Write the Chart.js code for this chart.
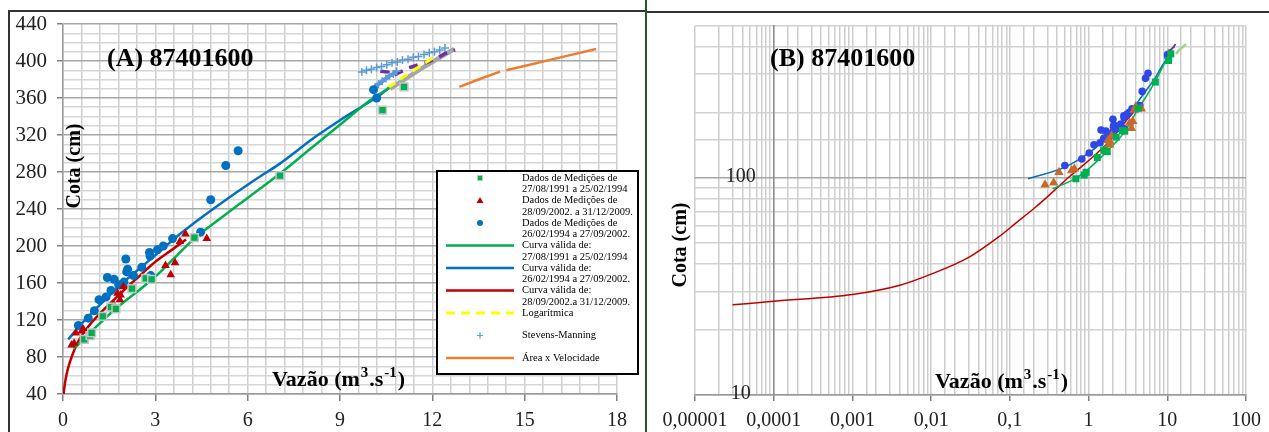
<!DOCTYPE html>
<html>
<head>
<meta charset="utf-8">
<script src="https://cdn.jsdelivr.net/npm/chart.js@4.4.0/dist/chart.umd.min.js"></script>
<style>
  html, body { margin: 0; padding: 0; background: #fff; }
  body { width: 1269px; height: 432px; position: relative; overflow: hidden; }
  canvas { position: absolute; top: 0; }
  #graficoA { left: 0; }
  #graficoB { left: 650px; }
  .linha { position: absolute; }
</style>
</head>
<body>
<div class="linha" style="left:8px; top:10px; width:2px; height:422px; background:#333;"></div>
<div class="linha" style="left:8px; top:10px; width:638px; height:2px; background:#333;"></div>
<div class="linha" style="left:645px; top:0; width:2px; height:432px; background:#1f5a2a;"></div>
<div class="linha" style="left:647px; top:11px; width:622px; height:2px; background:#333;"></div>
<canvas id="graficoA" width="645" height="432"></canvas>
<canvas id="graficoB" width="619" height="432"></canvas>
<script>
var SERIF = "'Liberation Serif', 'Times New Roman', serif";

// medições (vazão m3/s, cota cm)
var medQ9194 = [0.69, 0.88, 0.93, 1.29, 1.56, 1.72, 2.24, 2.69, 2.88, 4.27, 7.05, 10.38, 11.08];
var medH9194 = [99, 103, 106, 124, 134, 132, 154, 165, 164, 209, 276, 347, 372];
var medQ0209 = [0.28, 0.36, 0.42, 0.61, 0.66, 1.66, 1.69, 1.77, 1.85, 1.87, 1.96, 3.33, 3.50, 3.64, 3.80, 3.98, 4.67];
var medH0209 = [93, 95, 106, 108, 110, 136, 132, 149, 142, 147, 156, 179, 169, 182, 205, 213, 208];
var medQ9402 = [0.50, 0.82, 1.02, 1.17, 1.40, 1.44, 1.56, 1.66, 1.81, 1.98, 2.04, 2.07, 2.10, 2.29, 2.56, 2.81, 2.83, 2.85, 3.07, 3.26, 3.56, 4.47, 4.80, 5.29, 5.69, 10.09, 10.19];
var medH9402 = [114, 122, 130, 142, 145, 166, 152, 164, 158, 161, 186, 172, 175, 168, 177, 193, 189, 168, 196, 200, 208, 215, 250, 287, 303, 369, 360];

// curvas-chave
var curvaQ9194 = [0.35, 0.7, 1.0, 1.5, 2.0, 2.5, 3.0, 3.5, 4.3, 5.0, 6.0, 7.0, 8.0, 9.0, 10.0, 10.6];
var curvaH9194 = [89, 100, 110, 126, 140, 153, 167, 183, 209, 227, 252, 277, 304, 331, 358, 371];
var curvaQ9402 = [0.17, 0.5, 1.0, 1.5, 2.0, 2.5, 3.0, 3.8, 5.0, 6.3, 7.0, 8.2, 9.0, 10.2, 10.6];
var curvaH9402 = [99, 112, 130, 146, 162, 176, 190, 213, 243, 273, 288, 318, 336, 361, 371];
var curvaQ0209 = [0.00003, 0.0001, 0.001, 0.004, 0.01, 0.03, 0.07, 0.12, 0.2, 0.28, 0.4, 0.55, 0.8, 1.2, 1.6, 2.0, 2.5, 3.0, 3.5, 4.0];
var curvaH0209 = [26, 27, 29, 32, 36, 43, 53, 62, 72, 80, 90, 100, 112, 127, 140, 153, 168, 183, 195, 207];

// extrapolações
var logQ = [10.55, 11.2, 12.15];
var logH = [371, 386, 406];
var stevensQ = [9.71, 9.86, 10.02, 10.19, 10.35, 10.52, 10.69, 10.86, 11.03, 11.21, 11.38, 11.55, 11.73, 11.90, 12.07, 12.24, 12.41];
var stevensH = [388, 390, 391, 393, 394, 396, 398, 399, 401, 402, 404, 405, 407, 409, 410, 412, 414];
var stevensQ2 = [10.14, 10.25, 10.37, 10.49, 10.61, 10.73, 10.84];
var stevensH2 = [372, 375, 378, 381, 384, 386, 389];
var areaVelQ = [12.88, 13.5, 14.2, null, 14.4, 15.3, 16.3, 17.32];
var areaVelH = [372, 380, 388.5, null, 390, 397, 405, 413];
var roxoQ = [10.31, 10.57, 10.74, 10.95, 11.28, 11.55, 11.87, 12.14, 12.47, 12.74];
var roxoH = [389, 388, 384, 388, 393, 396, 399, 403, 409, 412];
var cinzaQ = [10.63, 11.6, 12.71];
var cinzaH = [370, 391, 413];

// eixos
var xTicksA = [0, 3, 6, 9, 12, 15, 18];
var yTicksA = [40, 80, 120, 160, 200, 240, 280, 320, 360, 400, 440];
var xTicksB = [0.00001, 0.0001, 0.001, 0.01, 0.1, 1, 10, 100];
var xTextosB = ['0,00001', '0,0001', '0,001', '0,01', '0,1', '1', '10', '100'];
var yTicksB = [10, 100];

var legendaTextos = [
    ['Dados de Medições de', '27/08/1991 a 25/02/1994'],
    ['Dados de Medições de', '28/09/2002. a 31/12/2009.'],
    ['Dados de Medições de', '26/02/1994 a 27/09/2002.'],
    ['Curva válida de:', '27/08/1991 a 25/02/1994'],
    ['Curva válida de:', '26/02/1994 a 27/09/2002.'],
    ['Curva válida de:', '28/09/2002.a 31/12/2009.'],
    ['Logarítmica'],
    ['Stevens-Manning'],
    ['Área x Velocidade']
];

function pts(qs, hs) {
    return qs.map(function(q, i) {
        return { x: q, y: hs[i] };
    });
}

function naLista(lista, v) {
    return lista.some(function(t) { return Math.abs(t - v) < 1e-9 * Math.max(1, Math.abs(t)); });
}

function drawVazao(ctx, x, y) {
    var partes = [['Vazão (m', false], ['3', true], ['.s', false], ['-1', true], [')', false]];
    partes.forEach(function(p) {
        ctx.font = p[1] ? 'bold 15px ' + SERIF : 'bold 22px ' + SERIF;
        ctx.fillText(p[0], x, p[1] ? y - 9 : y);
        x += ctx.measureText(p[0]).width + 1;
    });
}

var textosPlugin = {
    id: 'textos',
    afterDraw: function(chart, args, o) {
        var ctx = chart.ctx;
        ctx.save();
        ctx.fillStyle = '#000';
        ctx.textAlign = 'left';
        ctx.textBaseline = 'alphabetic';
        ctx.font = 'bold 26px ' + SERIF;
        ctx.fillText(o.titulo, o.tx, o.ty);
        drawVazao(ctx, o.vx, o.vy);
        ctx.translate(o.cx, o.cy);
        ctx.rotate(-Math.PI / 2);
        ctx.textAlign = 'center';
        ctx.textBaseline = 'middle';
        ctx.font = 'bold 20px ' + SERIF;
        ctx.fillText('Cota (cm)', 0, 0);
        ctx.restore();
    }
};

// rótulos do eixo y do gráfico B, junto ao eixo que cruza em 0,0001
var rotulosYB = {
    id: 'rotulosYB',
    afterDraw: function(chart) {
        var ctx = chart.ctx;
        var xEixo = chart.scales.x.getPixelForValue(0.0001);
        ctx.save();
        ctx.fillStyle = '#222';
        ctx.font = '20px ' + SERIF;
        ctx.textAlign = 'center';
        ctx.textBaseline = 'middle';
        yTicksB.forEach(function(v) {
            ctx.fillText(String(v), xEixo - 33, chart.scales.y.getPixelForValue(v) - 1);
        });
        ctx.restore();
    }
};

// legenda desenhada dentro do gráfico A
var legendaPlugin = {
    id: 'legendaA',
    afterDraw: function(chart) {
        var ctx = chart.ctx;
        var x0 = 437, y0 = 171, w = 201, h = 203;
        ctx.save();
        ctx.fillStyle = '#fff';
        ctx.fillRect(x0, y0, w, h);
        ctx.strokeStyle = '#000';
        ctx.lineWidth = 2;
        ctx.strokeRect(x0, y0, w, h);
        ctx.font = '10.5px ' + SERIF;
        ctx.textBaseline = 'middle';
        legendaTextos.forEach(function(linhas, i) {
            var ds = chart.data.datasets[i];
            var yc = 178 + 22.5 * i;
            var cx = 480;
            ctx.fillStyle = ds.backgroundColor;
            ctx.strokeStyle = ds.borderColor;
            ctx.setLineDash([]);
            if (ds.showLine) {
                ctx.lineWidth = ds.borderWidth;
                ctx.setLineDash(ds.borderDash || []);
                ctx.beginPath();
                ctx.moveTo(446, yc);
                ctx.lineTo(514, yc);
                ctx.stroke();
                ctx.setLineDash([]);
            } else if (ds.pointStyle === 'rect') {
                ctx.fillStyle = ds.pointBorderColor;
                ctx.fillRect(cx - 3, yc - 3, 6, 6);
                ctx.fillStyle = ds.backgroundColor;
                ctx.fillRect(cx - 2, yc - 2, 4, 4);
            } else if (ds.pointStyle === 'triangle') {
                ctx.beginPath();
                ctx.moveTo(cx, yc - 3.5);
                ctx.lineTo(cx + 3.5, yc + 2.5);
                ctx.lineTo(cx - 3.5, yc + 2.5);
                ctx.closePath();
                ctx.fill();
            } else if (ds.pointStyle === 'circle') {
                ctx.beginPath();
                ctx.arc(cx, yc, 3, 0, Math.PI * 2);
                ctx.fill();
            } else if (ds.pointStyle === 'cross') {
                ctx.lineWidth = 1.2;
                ctx.beginPath();
                ctx.moveTo(cx - 3, yc); ctx.lineTo(cx + 3, yc);
                ctx.moveTo(cx, yc - 3); ctx.lineTo(cx, yc + 3);
                ctx.stroke();
            } else {
                ctx.lineWidth = 2;
                ctx.beginPath();
                ctx.moveTo(cx - 2.5, yc); ctx.lineTo(cx + 2.5, yc);
                ctx.stroke();
            }
            ctx.fillStyle = '#000';
            linhas.forEach(function(t, k) {
                ctx.fillText(t, 522, yc + k * 11.5);
            });
        });
        ctx.restore();
    }
};

Chart.defaults.font.family = SERIF;
Chart.defaults.color = '#222';

var corMarcaA = function(lista) {
    return function(c) { return naLista(lista, c.tick.value) ? '#7f7f7f' : 'rgba(0,0,0,0)'; };
};

var graficoA = new Chart(document.getElementById('graficoA'), {
    type: 'scatter',
    data: {
        datasets: [
            { data: pts(medQ9194, medH9194), pointStyle: 'rect', pointRadius: 5.5, backgroundColor: '#00B050', pointBorderColor: '#c4c4c4', borderColor: '#c4c4c4', pointBorderWidth: 1.5 },
            { data: pts(medQ0209, medH0209), pointStyle: 'triangle', pointRadius: 5, backgroundColor: '#C00000', borderColor: '#C00000', pointBorderWidth: 0 },
            { data: pts(medQ9402, medH9402), pointStyle: 'circle', pointRadius: 4.5, backgroundColor: '#0070C0', borderColor: '#0070C0', pointBorderWidth: 0 },
            { data: pts(curvaQ9194, curvaH9194), showLine: true, cubicInterpolationMode: 'monotone', borderColor: '#00B050', backgroundColor: '#00B050', borderWidth: 2.5, pointRadius: 0 },
            { data: pts(curvaQ9402, curvaH9402), showLine: true, cubicInterpolationMode: 'monotone', borderColor: '#0070C0', backgroundColor: '#0070C0', borderWidth: 2.5, pointRadius: 0 },
            { data: pts(curvaQ0209, curvaH0209), showLine: true, cubicInterpolationMode: 'monotone', borderColor: '#C00000', backgroundColor: '#C00000', borderWidth: 2.5, pointRadius: 0 },
            { data: pts(logQ, logH), showLine: true, borderColor: '#FFFF00', backgroundColor: '#FFFF00', borderWidth: 3, borderDash: [9, 6], pointRadius: 0 },
            { data: pts(stevensQ, stevensH), pointStyle: 'cross', pointRadius: 4, borderColor: '#5B9BD5', backgroundColor: '#5B9BD5', pointBorderWidth: 1.5 },
            { data: pts(areaVelQ, areaVelH), showLine: true, spanGaps: false, borderColor: '#ED7D31', backgroundColor: '#ED7D31', borderWidth: 2.5, pointRadius: 0 },
            { data: pts(stevensQ2, stevensH2), showLine: true, borderColor: '#5B9BD5', backgroundColor: '#5B9BD5', borderWidth: 4, pointStyle: 'cross', pointRadius: 4, pointBorderWidth: 1.5 },
            { data: pts(roxoQ, roxoH), showLine: true, borderColor: '#7030A0', backgroundColor: '#7030A0', borderWidth: 3.5, borderDash: [9, 7], pointRadius: 0 },
            { data: pts(cinzaQ, cinzaH), showLine: true, borderColor: '#A6A6A6', backgroundColor: '#A6A6A6', borderWidth: 4.5, pointRadius: 0 }
        ]
    },
    options: {
        responsive: false,
        animation: false,
        clip: 0,
        layout: { padding: { left: 0, top: 24, right: 28, bottom: 0 } },
        plugins: {
            legend: { display: false },
            tooltip: { enabled: false },
            textos: { titulo: '(A) 87401600', tx: 107, ty: 66, cx: 75, cy: 166, vx: 272, vy: 386 }
        },
        scales: {
            x: {
                type: 'linear', min: 0, max: 18,
                afterFit: function(s) { s.height = 38; },
                border: { color: '#999', width: 1.5 },
                grid: { color: '#cfcfcf', lineWidth: 1.5, tickLength: 7, tickColor: corMarcaA(xTicksA) },
                ticks: {
                    stepSize: 0.6, autoSkip: false, maxRotation: 0, padding: 8,
                    font: { size: 20, family: SERIF }, color: '#222',
                    callback: function(v) { return naLista(xTicksA, v) ? String(Math.round(v)) : ''; }
                }
            },
            y: {
                type: 'linear', min: 40, max: 440,
                afterFit: function(s) { s.width = 63; },
                border: { color: '#999', width: 1.5 },
                grid: {
                    lineWidth: 1.5, tickLength: 6, tickColor: corMarcaA(yTicksA),
                    color: function(c) { return naLista(yTicksA, c.tick.value) ? '#a6a6a6' : '#d6d6d6'; }
                },
                ticks: {
                    stepSize: 10, autoSkip: false, padding: 10,
                    font: { size: 21, family: SERIF }, color: '#222',
                    callback: function(v) { return naLista(yTicksA, v) ? String(Math.round(v)) : ''; }
                }
            }
        }
    },
    plugins: [textosPlugin, legendaPlugin]
});

function potencia10(v) {
    var l = Math.log10(v);
    return Math.abs(l - Math.round(l)) < 1e-6;
}

var graficoB = new Chart(document.getElementById('graficoB'), {
    type: 'scatter',
    data: {
        datasets: [
            { data: pts(medQ9194, medH9194), pointStyle: 'rect', pointRadius: 5, backgroundColor: '#00B050', borderColor: '#00B050', pointBorderWidth: 0 },
            { data: pts(medQ0209, medH0209), pointStyle: 'triangle', pointRadius: 5.5, backgroundColor: '#C5692C', borderColor: '#C5692C', pointBorderWidth: 0 },
            { data: pts(medQ9402, medH9402), pointStyle: 'circle', pointRadius: 3.8, backgroundColor: '#2E48E8', borderColor: '#2E48E8', pointBorderWidth: 0 },
            { data: pts(curvaQ9194, curvaH9194), showLine: true, cubicInterpolationMode: 'monotone', borderColor: '#00B050', borderWidth: 1.5, pointRadius: 0 },
            { data: pts(curvaQ9402, curvaH9402), showLine: true, cubicInterpolationMode: 'monotone', borderColor: '#0070C0', borderWidth: 1.5, pointRadius: 0 },
            { data: pts(curvaQ0209, curvaH0209), showLine: true, cubicInterpolationMode: 'monotone', borderColor: '#C00000', borderWidth: 1.5, pointRadius: 0 },
            { data: pts(areaVelQ, areaVelH), showLine: true, spanGaps: true, borderColor: '#A9D18E', borderWidth: 2.5, pointRadius: 0 },
            { data: pts(roxoQ, roxoH), showLine: true, borderColor: '#7030A0', borderWidth: 1.5, pointRadius: 0 },
            { data: pts(cinzaQ, cinzaH), showLine: true, borderColor: '#7F7F7F', borderWidth: 1.5, pointRadius: 0 }
        ]
    },
    options: {
        responsive: false,
        animation: false,
        clip: 0,
        layout: { padding: { left: 45, top: 26, right: 22, bottom: 0 } },
        plugins: {
            legend: { display: false },
            tooltip: { enabled: false },
            textos: { titulo: '(B) 87401600', tx: 120, ty: 66, cx: 31, cy: 245, vx: 285, vy: 388 }
        },
        scales: {
            x: {
                type: 'logarithmic', min: 0.00001, max: 100,
                afterFit: function(s) { s.height = 37; },
                border: { color: '#999', width: 1.5 },
                grid: {
                    lineWidth: 1.5, tickLength: 6, color: '#cdcdcd',
                    tickColor: function(c) { return potencia10(c.tick.value) ? '#7f7f7f' : 'rgba(0,0,0,0)'; }
                },
                ticks: {
                    autoSkip: false, maxRotation: 0, padding: 8,
                    font: { size: 20, family: SERIF }, color: '#222',
                    callback: function(v) {
                        for (var i = 0; i < xTicksB.length; i++) {
                            if (Math.abs(Math.log10(v) - Math.log10(xTicksB[i])) < 1e-6) return xTextosB[i];
                        }
                        return '';
                    }
                }
            },
            y: {
                type: 'logarithmic', min: 10, max: 500,
                position: { x: 0.0001 },
                border: { color: '#8c8c8c', width: 1.5 },
                grid: {
                    lineWidth: 1.5, drawTicks: false,
                    color: function(c) { return naLista(yTicksB, c.tick.value) ? '#a6a6a6' : '#d2d2d2'; }
                },
                ticks: { display: false, autoSkip: false }
            }
        }
    },
    plugins: [textosPlugin, rotulosYB]
});
</script>
</body>
</html>
